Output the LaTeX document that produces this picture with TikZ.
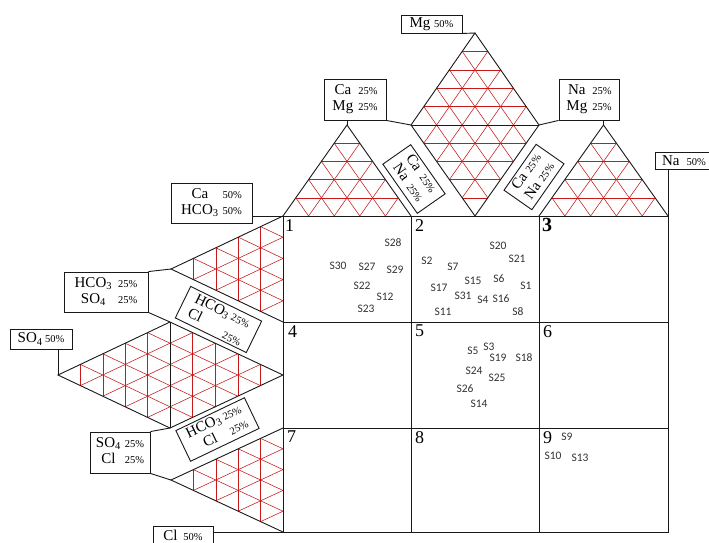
\documentclass[tikz,border=0pt]{standalone}
\usepackage{fontspec}
\setmainfont{Liberation Serif}
\newfontfamily\samplefont{Carlito}
\usetikzlibrary{calc}
\newcommand\pct[1]{{\fontsize{10.5}{11}\selectfont #1\%}}
\newcommand\mytrigrid[3]{%
  \foreach \i in {1,2,3,4}{%
    \pgfmathsetmacro\f{\i/5}%
    \draw[gridred] ($(#1)!\f!(#2)$) -- ($(#1)!\f!(#3)$);
    \draw[gridred] ($(#2)!\f!(#1)$) -- ($(#2)!\f!(#3)$);
    \draw[gridred] ($(#3)!\f!(#1)$) -- ($(#3)!\f!(#2)$);
  }%
}
\begin{document}
\begin{tikzpicture}[x=1pt,y=-1pt,
  gridred/.style={draw=red!75!black!90, line width=0.55pt},
  outline/.style={draw=black!90, line width=0.9pt},
  lbl/.style={draw=black!90, fill=white, line width=0.9pt, inner sep=1pt,
    font=\fontsize{15}{16}\selectfont, align=center},
  cellnum/.style={anchor=north west, inner sep=1pt, font=\fontsize{18}{18}\selectfont},
  smp/.style={inner sep=0pt, font=\samplefont\fontsize{11.5}{11.5}\selectfont, text=black!80}
]
\useasboundingbox (0,0) rectangle (709,542);
\fill[white] (0,0) rectangle (709,542);
% grid corners
\foreach \c/\x in {0/283,1/411,2/539,3/668}{
  \foreach \r/\y in {0/216,1/322,2/428,3/532}{
    \coordinate (g\c\r) at (\x,\y);
  }
}
% triangle vertices
\coordinate (ta) at (347,125);
\coordinate (dt) at (475,33);
\coordinate (dl) at (411,125);
\coordinate (dr) at (539,125);
\coordinate (db) at (475,216);
\coordinate (tb) at (603.5,125);
\coordinate (la) at (171,269);
\coordinate (ml) at (58,375);
\coordinate (mt) at (170,322);
\coordinate (mr) at (283,375);
\coordinate (mb) at (170,428);
\coordinate (lb) at (171,480);
% red grids
\mytrigrid{ta}{g00}{g10}
\mytrigrid{dt}{dl}{dr}
\mytrigrid{db}{dl}{dr}
\mytrigrid{tb}{g20}{g30}
\mytrigrid{la}{g00}{g01}
\mytrigrid{ml}{mt}{mb}
\mytrigrid{mr}{mt}{mb}
\mytrigrid{lb}{g02}{g03}
% outlines
\draw[outline] (g00) -- (ta) -- (g10);
\draw[outline] (dl) -- (dt) -- (dr) -- (db) -- cycle;
\draw[outline] (dl) -- (dr);
\draw[outline] (g20) -- (tb) -- (g30);
\draw[outline] (g00) -- (la) -- (g01);
\draw[outline] (mt) -- (ml) -- (mb) -- (mr) -- cycle;
\draw[outline] (mt) -- (mb);
\draw[outline] (g02) -- (lb) -- (g03);
% square grid
\draw[outline] (g00) rectangle (g33);
\draw[outline] (g10) -- (g13) (g20) -- (g23) (g01) -- (g31) (g02) -- (g32);
% label boxes
\node[lbl, minimum width=61pt, minimum height=18pt] (mg50) at (431.5,24) {Mg \pct{50}};
\node[lbl, minimum width=62pt, minimum height=41pt] (camg) at (355,99.5)
  {\begin{tabular}{@{}c@{\hspace{5pt}}r@{}}Ca & \pct{25}\\ Mg & \pct{25}\end{tabular}};
\node[lbl, minimum width=60pt, minimum height=41pt] (namg) at (589,99.5)
  {\begin{tabular}{@{}c@{\hspace{5pt}}r@{}}Na & \pct{25}\\ Mg & \pct{25}\end{tabular}};
\node[lbl, minimum width=58pt, minimum height=17pt] (na50) at (684,160.5) {Na\hspace{7pt}\pct{50}};
\node[lbl, minimum width=81pt, minimum height=40pt] (ca50) at (211.5,203)
  {\begin{tabular}{@{}c@{\hspace{4pt}}r@{}}Ca & \pct{50}\\ HCO\textsubscript{3} & \pct{50}\end{tabular}};
\node[lbl, minimum width=84pt, minimum height=40pt] (hs) at (106,292)
  {\begin{tabular}{@{}c@{\hspace{6pt}}r@{}}HCO\textsubscript{3} & \pct{25}\\ SO\textsubscript{4} & \pct{25}\end{tabular}};
\node[lbl, rotate=-26, minimum width=79pt, minimum height=35pt] (hc1) at (218.5,319.5)
  {\begin{tabular}{@{}l@{\hspace{3pt}}r@{}}HCO\textsubscript{3} & \pct{25}\\ Cl & \raisebox{-4pt}{\pct{25}}\end{tabular}};
\node[lbl, minimum width=62pt, minimum height=20pt] (so50) at (41,339) {SO\textsubscript{4}\,\pct{50}};
\node[lbl, rotate=25.6, minimum width=76pt, minimum height=33pt] (hc2) at (217.5,429.5)
  {\begin{tabular}{@{}c@{\hspace{3pt}}r@{}}HCO\textsubscript{3} & \pct{25}\\ Cl & \pct{25}\end{tabular}};
\node[lbl, minimum width=60pt, minimum height=41pt] (sc) at (120,452.5)
  {\begin{tabular}{@{}c@{\hspace{4pt}}r@{}}SO\textsubscript{4} & \pct{25}\\ Cl & \pct{25}\end{tabular}};
\node[lbl, minimum width=60pt, minimum height=18pt] (cl50) at (183,535) {Cl\hspace{6pt}\pct{50}};
\node[lbl, rotate=-55, minimum width=60pt, minimum height=32pt] (canaL) at (414,179)
  {\begin{tabular}{@{}l@{\hspace{6pt}}r@{}}Ca & \pct{25}\\ Na & \pct{25}\end{tabular}};
\node[lbl, rotate=55, minimum width=56pt, minimum height=34pt] (canaR) at (534,177)
  {\begin{tabular}{@{}l@{\hspace{4pt}}r@{}}Ca & \pct{25}\\ Na & \pct{25}\end{tabular}};
% connectors
\draw[outline] (mg50.south east) -- (dt);
\draw[outline] (camg.south east) -- (dl);
\draw[outline] (ta) -- (ta |- camg.south);
\draw[outline] (namg.south west) -- (dr);
\draw[outline] (tb) -- (tb |- namg.south);
\draw[outline] (g30) -- (g30 |- na50.south);
\draw[outline] (g00) -- (g00 -| ca50.east);
\draw[outline] (hs.north east) -- (la);
\draw[outline] (hs.south east) -- (mt);
\draw[outline] (ml) -- (ml |- so50.south);
\draw[outline] (sc.north east) -- (mb);
\draw[outline] (sc.south east) -- (lb);
\draw[outline] (g03) -- (g03 -| cl50.east);
% cell numbers
\node[cellnum] (n1) at ($(g00)+(1,2)$) {1};
\node[cellnum] (n2) at ($(g10)+(3,2)$) {2};
\node[cellnum, font=\fontsize{20}{20}\selectfont\bfseries] (n3) at ($(g20)+(2,1)$) {3};
\node[cellnum] (n4) at ($(g01)+(4,2)$) {4};
\node[cellnum] (n5) at ($(g11)+(3,2)$) {5};
\node[cellnum] (n6) at ($(g21)+(3,2)$) {6};
\node[cellnum] (n7) at ($(g02)+(3,2)$) {7};
\node[cellnum] (n8) at ($(g12)+(3,2)$) {8};
\node[cellnum] (n9) at ($(g22)+(3,2)$) {9};
% samples
\foreach \n/\x/\y in {
  28/393/243, 30/338/266, 27/367/267, 29/395/270, 22/362/286, 12/385/297, 23/366/309,
  20/498/246, 21/517/259, 2/427/261, 7/453/267, 15/473/281, 6/499/279, 1/526/286,
  17/439/288, 31/463/296, 4/483/300, 16/501/299, 11/443/312, 8/518/312,
  5/473/351, 3/489/347, 19/498/358, 18/524/358, 24/474/371, 25/497/378, 26/465/389, 14/479/404,
  9/567/437, 10/553/456, 13/580/458}{
  \node[smp] (s\n) at (\x,\y) {S\n};
}
\end{tikzpicture}
\end{document}
